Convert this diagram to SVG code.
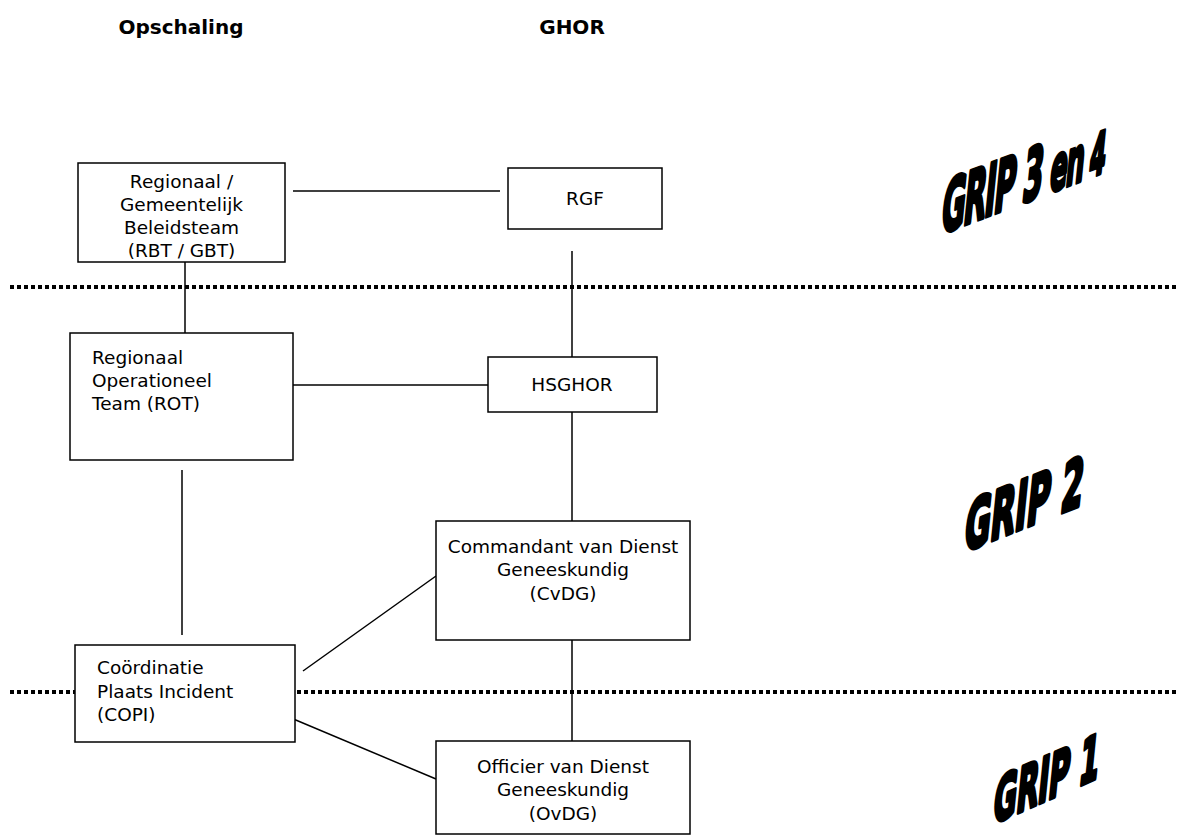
<svg xmlns="http://www.w3.org/2000/svg" width="1204" height="838" viewBox="0 0 1204 838">
<style>
.box{fill:#fff;stroke:#000;stroke-width:1.5}
.t{font-family:"DejaVu Sans",Verdana,sans-serif;font-size:18.5px;fill:#000}
.c{text-anchor:middle}
.h{font-family:"DejaVu Sans",Verdana,sans-serif;font-size:20px;font-weight:bold;fill:#000;text-anchor:middle}
.ln{stroke:#000;stroke-width:1.5;fill:none}
.dot{stroke:#000;stroke-width:4;stroke-dasharray:4 3;fill:none}
.grip{font-family:"DejaVu Sans",sans-serif;font-weight:bold;fill:#000;stroke:#000;stroke-width:4.5;stroke-linejoin:round}
</style>
<rect width="1204" height="838" fill="#fff"/>
<g id="headers">
<text class="h" x="181" y="34">Opschaling</text>
<text class="h" x="572" y="34">GHOR</text>
</g>
<g id="separators">
<line class="dot" x1="10" y1="287" x2="1176" y2="287"/>
<line class="dot" x1="10" y1="692" x2="1176" y2="692"/>
</g>
<g id="connectors">
<line class="ln" x1="293" y1="191" x2="500" y2="191"/>
<line class="ln" x1="185" y1="262" x2="185" y2="333"/>
<line class="ln" x1="572" y1="251" x2="572" y2="357"/>
<line class="ln" x1="293" y1="385" x2="488" y2="385"/>
<line class="ln" x1="572" y1="412" x2="572" y2="521"/>
<line class="ln" x1="182" y1="470" x2="182" y2="635"/>
<line class="ln" x1="303" y1="671" x2="436" y2="576"/>
<line class="ln" x1="291" y1="718" x2="436" y2="779"/>
<line class="ln" x1="572" y1="640" x2="572" y2="741"/>
</g>
<g id="rbt">
<rect class="box" x="78" y="163" width="207" height="99"/>
<text class="t c" x="181.5" y="188">Regionaal /</text>
<text class="t c" x="181.5" y="211">Gemeentelijk</text>
<text class="t c" x="181.5" y="234">Beleidsteam</text>
<text class="t c" x="181.5" y="257">(RBT / GBT)</text>
</g>
<g id="rgf">
<rect class="box" x="508" y="168" width="154" height="61"/>
<text class="t c" x="585" y="205">RGF</text>
</g>
<g id="rot">
<rect class="box" x="70" y="333" width="223" height="127"/>
<text class="t" x="92" y="364">Regionaal</text>
<text class="t" x="92" y="387">Operationeel</text>
<text class="t" x="92" y="410">Team (ROT)</text>
</g>
<g id="hsghor">
<rect class="box" x="488" y="357" width="169" height="55"/>
<text class="t c" x="572" y="391">HSGHOR</text>
</g>
<g id="cvdg">
<rect class="box" x="436" y="521" width="254" height="119"/>
<text class="t c" x="563" y="553">Commandant van Dienst</text>
<text class="t c" x="563" y="576">Geneeskundig</text>
<text class="t c" x="563" y="600">(CvDG)</text>
</g>
<g id="copi">
<rect class="box" x="75" y="645" width="220" height="97"/>
<text class="t" x="97" y="674">Coördinatie</text>
<text class="t" x="97" y="698">Plaats Incident</text>
<text class="t" x="97" y="721">(COPI)</text>
</g>
<g id="ovdg">
<rect class="box" x="436" y="741" width="254" height="93"/>
<text class="t c" x="563" y="773">Officier van Dienst</text>
<text class="t c" x="563" y="796">Geneeskundig</text>
<text class="t c" x="563" y="820">(OvDG)</text>
</g>
<g id="grip-labels">
<text class="grip" transform="translate(940,234) skewY(-20.8) skewX(-6) scale(0.41,1)" font-size="70" letter-spacing="-3">GRIP 3 <tspan font-size="62">en</tspan><tspan font-size="56"> 4</tspan></text>
<text class="grip" transform="translate(963,552) skewY(-21.8) skewX(-6) scale(0.48,1)" font-size="66">GRIP 2</text>
<text class="grip" transform="translate(992,824) skewY(-23.7) skewX(-6) scale(0.47,1)" font-size="60">GRIP 1</text>
</g>
</svg>
